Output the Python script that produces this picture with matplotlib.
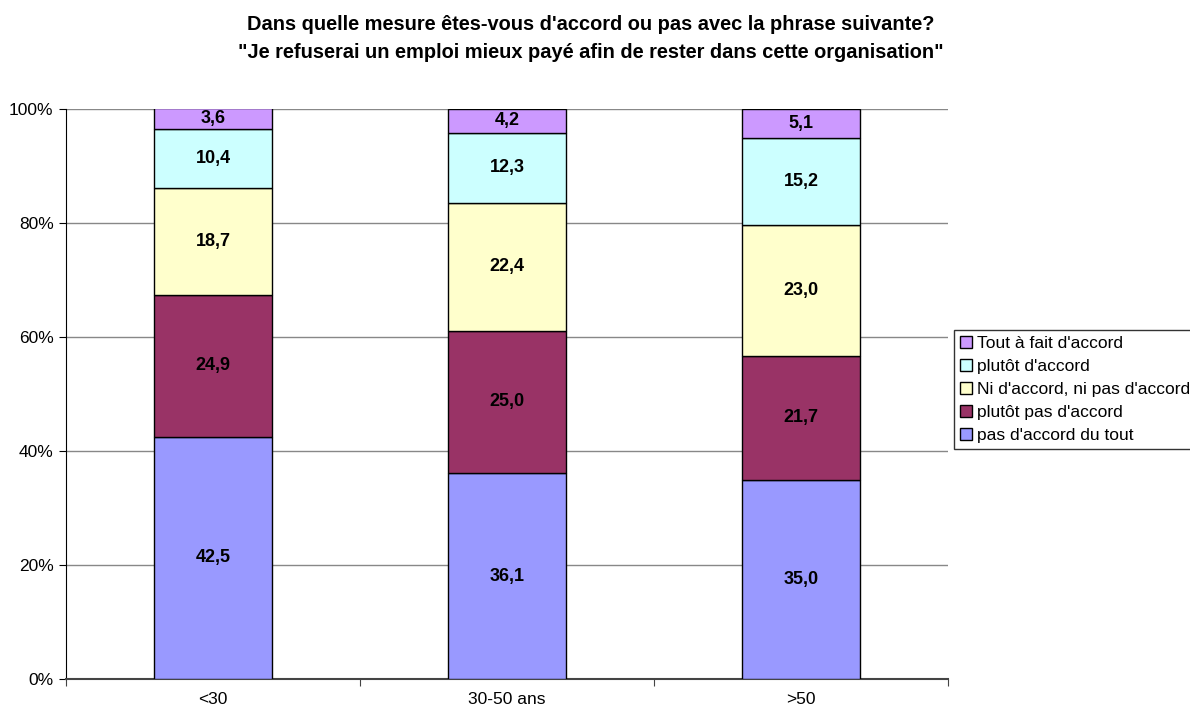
import matplotlib.pyplot as plt
import numpy as np

plt.rcParams['font.family'] = ['Liberation Sans', 'DejaVu Sans']

categories = ["<30", "30-50 ans", ">50"]
series = ["pas d'accord du tout", "plutôt pas d'accord", "Ni d'accord, ni pas d'accord",
          "plutôt d'accord", "Tout à fait d'accord"]
pas_du_tout = [42.5, 36.1, 35.0]
plutot_pas = [24.9, 25.0, 21.7]
ni_ni = [18.7, 22.4, 23.0]
plutot = [10.4, 12.3, 15.2]
tout_a_fait = [3.6, 4.2, 5.1]
colors = ["#9999FF", "#993366", "#FFFFCC", "#CCFFFF", "#CC99FF"]

values = [pas_du_tout, plutot_pas, ni_ni, plutot, tout_a_fait]

fig = plt.figure(figsize=(11.9, 7.08), dpi=100)
ax = fig.add_axes([66/1190, 1 - 679/708, (948 - 66)/1190, (679 - 109)/708])

x = np.arange(len(categories)) + 0.5
bottom = np.zeros(len(categories))
handles = []
for name, vals, c in zip(series, values, colors):
    vals = np.array(vals)
    b = ax.bar(x, vals, 0.4, bottom=bottom, color=c, edgecolor='black', linewidth=1, label=name, zorder=3)
    handles.append(b)
    for xi, bi, vi in zip(x, bottom, vals):
        ax.text(xi, bi + vi / 2, f"{vi:.1f}".replace('.', ','), ha='center', va='center',
                fontsize=13, fontweight='bold', zorder=4)
    bottom += vals

ax.set_xlim(0, 3)
ax.set_ylim(0, 100)
ax.set_yticks(range(0, 101, 20))
ax.set_yticklabels([f"{v}%" for v in range(0, 101, 20)], fontsize=12.5)
ax.yaxis.grid(True, color='#888888', linewidth=1, zorder=0)
ax.set_xticks([0, 1, 2, 3])
ax.set_xticklabels([])
ax.set_xticks(x, minor=True)
ax.set_xticklabels(categories, minor=True, fontsize=12.5)
ax.tick_params(axis='x', which='minor', length=0, pad=9)
ax.tick_params(axis='x', which='major', length=5, color='#444444')
ax.tick_params(axis='y', length=5, color='black', pad=4)
ax.spines['top'].set_visible(False)
ax.spines['right'].set_visible(False)
ax.spines['bottom'].set_color('#444444')
ax.spines['bottom'].set_linewidth(1.5)
ax.spines['left'].set_color('black')

fig.suptitle("Dans quelle mesure êtes-vous d'accord ou pas avec la phrase suivante?\n"
             "\"Je refuserai un emploi mieux payé afin de rester dans cette organisation\"",
             x=591/1190, y=0.979, fontsize=14.4, fontweight='bold', linespacing=1.6)

leg = fig.legend(handles[::-1], series[::-1], loc='upper left', bbox_to_anchor=(954/1190, 1 - 330/708),
                 fontsize=12.5, frameon=True, fancybox=False, edgecolor='black', borderpad=0.35,
                 handlelength=0.7, handleheight=0.7, handletextpad=0.3, labelspacing=0.45,
                 borderaxespad=0)
leg.get_frame().set_linewidth(1)

fig.savefig("out.png", dpi=100)
